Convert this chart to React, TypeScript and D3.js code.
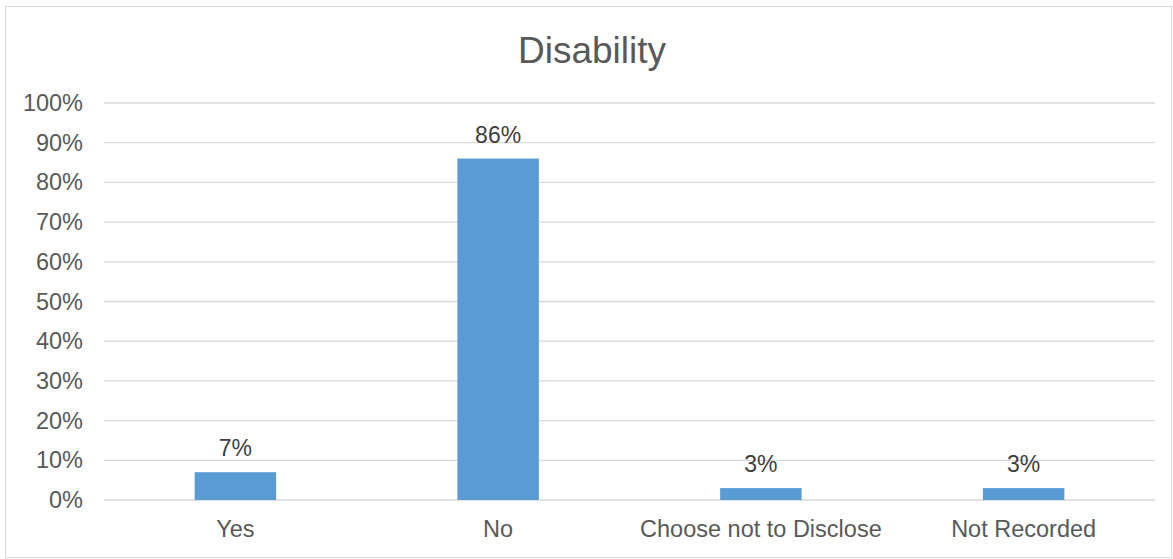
import React from "react";
import * as d3 from "d3";

const categories = ["Yes", "No", "Choose not to Disclose", "Not Recorded"];
const values = [7, 86, 3, 3];
const yTicks = [0, 10, 20, 30, 40, 50, 60, 70, 80, 90, 100];
const title = "Disability";

export default function App() {
  const W = 1173, H = 559;
  const left = 104, right = 1155, top = 103, bottom = 500;
  const x = d3.scaleBand<string>().domain(categories).range([left, right]).paddingInner(0.69).paddingOuter(0.345);
  const y = d3.scaleLinear().domain([0, 100]).range([bottom, top]);
  const font = "Arial, 'Liberation Sans', sans-serif";
  const col = "#595959";
  return (
    <svg width={W} height={H} style={{ position: "absolute", left: 0, top: 0 }} fontFamily={font}>
      <rect x={0} y={0} width={W} height={H} fill="#fff" />
      <rect x={5.5} y={6.5} width={1166} height={551} fill="none" stroke="#d9d9d9" strokeWidth={1} />
      <text x={592} y={63} textAnchor="middle" fontSize={37} fill={col}>{title}</text>
      {yTicks.map((t) => (
        <g key={t}>
          <line x1={left} x2={right} y1={y(t)} y2={y(t)} stroke="#d9d9d9" strokeWidth={1.3} />
          <text x={83} y={y(t) + 8} textAnchor="end" fontSize={23.5} fill={col}>{t}%</text>
        </g>
      ))}
      {categories.map((c, i) => (
        <g key={c}>
          <rect x={x(c)} y={y(values[i])} width={x.bandwidth()} height={bottom - y(values[i])} fill="#5b9bd5" />
          <text x={(x(c) as number) + x.bandwidth() / 2} y={y(values[i]) - 16} textAnchor="middle" fontSize={23} fill="#404040">{values[i]}%</text>
          <text x={left + (right - left) / 4 * (i + 0.5)} y={537} textAnchor="middle" fontSize={23.5} fill={col}>{c}</text>
        </g>
      ))}
    </svg>
  );
}
